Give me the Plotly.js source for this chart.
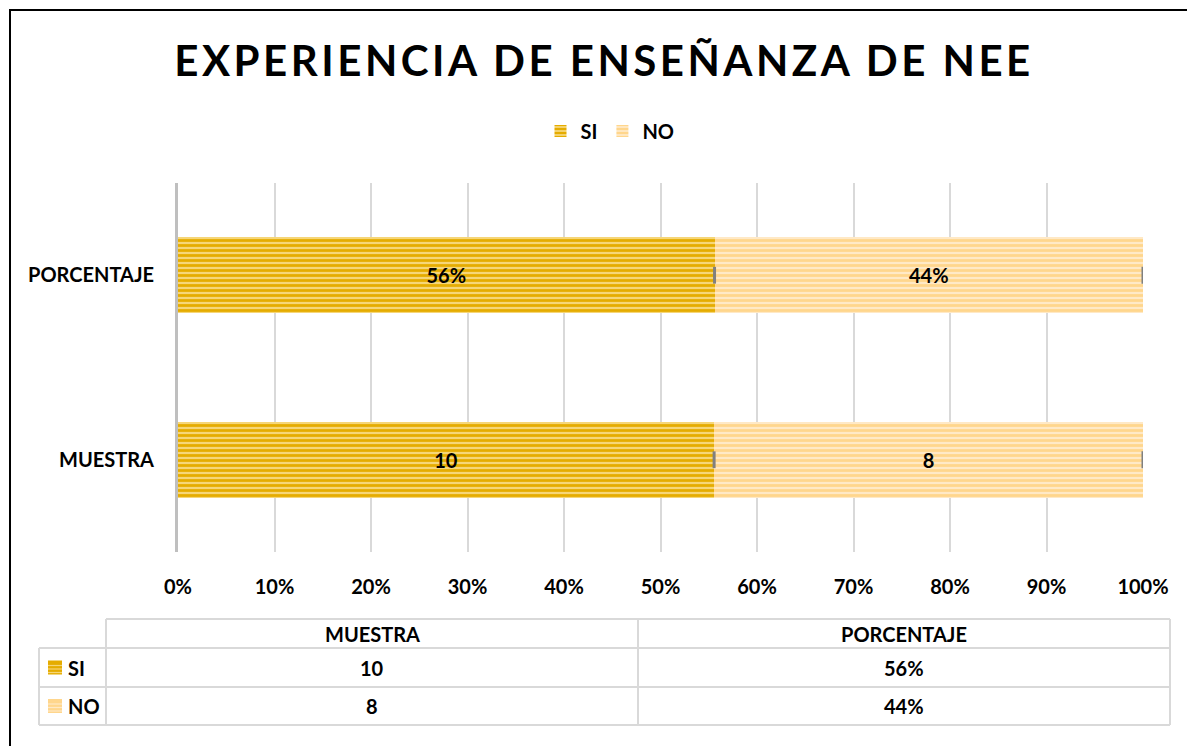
<!DOCTYPE html>
<html>
<head>
<meta charset="utf-8">
<script src="https://cdn.plot.ly/plotly-3.0.1.min.js"></script>
<style>html,body{margin:0;padding:0;background:#fff;}</style>
</head>
<body>
<div id="chart" style="width:1187px;height:746px;"></div>
<script>
const categories = ['MUESTRA', 'PORCENTAJE'];
const siValues = [10, 0.556];
const noValues = [8, 0.444];
const siLabels = ['10', '56%'];
const noLabels = ['8', '44%'];
const tickVals = [0, 0.1, 0.2, 0.3, 0.4, 0.5, 0.6, 0.7, 0.8, 0.9, 1];
const tickText = ['0%', '10%', '20%', '30%', '40%', '50%', '60%', '70%', '80%', '90%', '100%'];
const tableHeader = ['MUESTRA', 'PORCENTAJE'];
const tableSeries = ['SI', 'NO'];
const tableMuestra = ['10', '8'];
const tablePorcentaje = ['56%', '44%'];

const FONT = 'Lato, "Open Sans", sans-serif';
const W = 1187, H = 746;
const px = x => x / W, py = y => 1 - y / H;
const siFg = '#E5AC00', siBg = '#F6D678';
const noFg = '#FFD68C', noBg = '#FFE9C6';
const GRID = '#D9D9D9';

function bar(name, vals, labels, fg, bg) {
  return {
    type: 'bar', orientation: 'h', name: name,
    y: categories, x: vals, text: labels,
    texttemplate: '<b>%{text}</b>', textposition: 'inside', insidetextanchor: 'middle',
    textfont: {family: FONT, size: 20, color: '#000'},
    marker: {color: bg, line: {width: 0},
      pattern: {shape: '-', fgcolor: fg, bgcolor: bg, size: 5, solidity: 0.55, fillmode: 'replace'}},
    hoverinfo: 'skip'
  };
}
const barSI = bar('SI', siValues, siLabels, siFg, siBg);
const barNO = bar('NO', noValues, noLabels, noFg, noBg);

// small gray separators at the end of each segment (fractions of each category total)
const sepX = [], sepY = [];
categories.forEach((c, i) => {
  const tot = siValues[i] + noValues[i];
  sepX.push(siValues[i] / tot, (siValues[i] + noValues[i]) / tot);
  sepY.push(c, c);
});
const seps = {
  type: 'scatter', mode: 'markers', x: sepX, y: sepY, showlegend: false, hoverinfo: 'skip',
  marker: {symbol: 'line-ns', size: 12, line: {width: 3, color: '#808080'}}
};

// ---- data table drawn below the chart ----
const colEdges = [39, 106, 638, 1170];
const rowEdges = [619, 648, 687, 725];
const shapes = [];
const line = (x0, y0, x1, y1) => shapes.push({type: 'line', xref: 'paper', yref: 'paper',
  x0: px(x0), y0: py(y0), x1: px(x1), y1: py(y1), line: {color: GRID, width: 2}});
line(colEdges[1], rowEdges[0], colEdges[3], rowEdges[0]);
for (let r = 1; r < rowEdges.length; r++) line(colEdges[0], rowEdges[r], colEdges[3], rowEdges[r]);
line(colEdges[0], rowEdges[1], colEdges[0], rowEdges[3]);
for (let c = 1; c < colEdges.length; c++) line(colEdges[c], rowEdges[0], colEdges[c], rowEdges[3]);

const annotations = [];
const txt = (text, x, y, anchor) => annotations.push({text: '<b>' + text + '</b>', xref: 'paper', yref: 'paper',
  x: px(x), y: py(y), xanchor: anchor || 'center', yanchor: 'middle', showarrow: false,
  font: {family: FONT, size: 20, color: '#000'}});
const colMid = c => (colEdges[c] + colEdges[c + 1]) / 2;
const rowMid = r => (rowEdges[r] + rowEdges[r + 1]) / 2;
tableHeader.forEach((h, i) => txt(h, colMid(i + 1), rowMid(0)));
tableSeries.forEach((s, r) => {
  const ym = rowMid(r + 1);
  const fg = r === 0 ? siFg : noFg, bg = r === 0 ? siBg : noBg;
  shapes.push({type: 'rect', xref: 'paper', yref: 'paper', x0: px(48), x1: px(62),
    y0: py(ym + 7), y1: py(ym - 7), fillcolor: fg, line: {width: 0}});
  [-3.5, 0, 3.5].forEach(d => shapes.push({type: 'line', xref: 'paper', yref: 'paper',
    x0: px(48), x1: px(62), y0: py(ym + d + 1.5), y1: py(ym + d + 1.5), line: {color: bg, width: 1.2}}));
  txt(s, 66, ym, 'left');
  txt(tableMuestra[r], colMid(1), ym);
  txt(tablePorcentaje[r], colMid(2), ym);
});

// outer frame
shapes.push({type: 'rect', xref: 'paper', yref: 'paper', x0: px(10), x1: 1.05, y0: -0.05, y1: py(10),
  line: {color: '#000', width: 2}, fillcolor: 'rgba(0,0,0,0)', layer: 'above'});

const layout = {
  width: W, height: H,
  margin: {l: 0, r: 0, t: 0, b: 0},
  paper_bgcolor: '#FFFFFF', plot_bgcolor: '#FFFFFF',
  barmode: 'stack', barnorm: 'fraction', bargap: 0.59,
  font: {family: FONT, color: '#000'},
  title: {text: '<b>EXPERIENCIA DE ENSEÑANZA DE NEE</b>', x: px(604), xanchor: 'center',
    y: py(61), yanchor: 'middle', yref: 'paper',
    font: {family: FONT, size: 42, color: '#000'}},
  showlegend: true,
  legend: {orientation: 'h', x: px(610), xanchor: 'center', y: py(131), yanchor: 'middle',
    font: {family: FONT, size: 20, color: '#000', weight: 'bold'}, itemwidth: 30, traceorder: 'normal'},
  xaxis: {
    domain: [px(178), px(1143)], range: [0, 1],
    tickvals: tickVals, ticktext: tickText,
    tickfont: {family: FONT, size: 20, color: '#000', weight: 'bold'},
    showgrid: true, gridcolor: GRID, gridwidth: 2,
    zeroline: false, showline: false, ticks: '', ticklabelstandoff: 21, fixedrange: true
  },
  yaxis: {
    domain: [py(552), py(183)],
    categoryorder: 'array', categoryarray: categories,
    tickfont: {family: FONT, size: 20, color: '#000', weight: 'bold'},
    showline: true, linecolor: '#BFBFBF', linewidth: 3,
    showgrid: false, ticks: '', ticklabelstandoff: 17, fixedrange: true
  },
  shapes: shapes,
  annotations: annotations
};

Plotly.newPlot('chart', [barSI, barNO, seps], layout, {displayModeBar: false, staticPlot: true}).then(() => {
  document.querySelectorAll('.gtitle').forEach(el => el.setAttribute('letter-spacing', '3.5'));
});
</script>
</body>
</html>
